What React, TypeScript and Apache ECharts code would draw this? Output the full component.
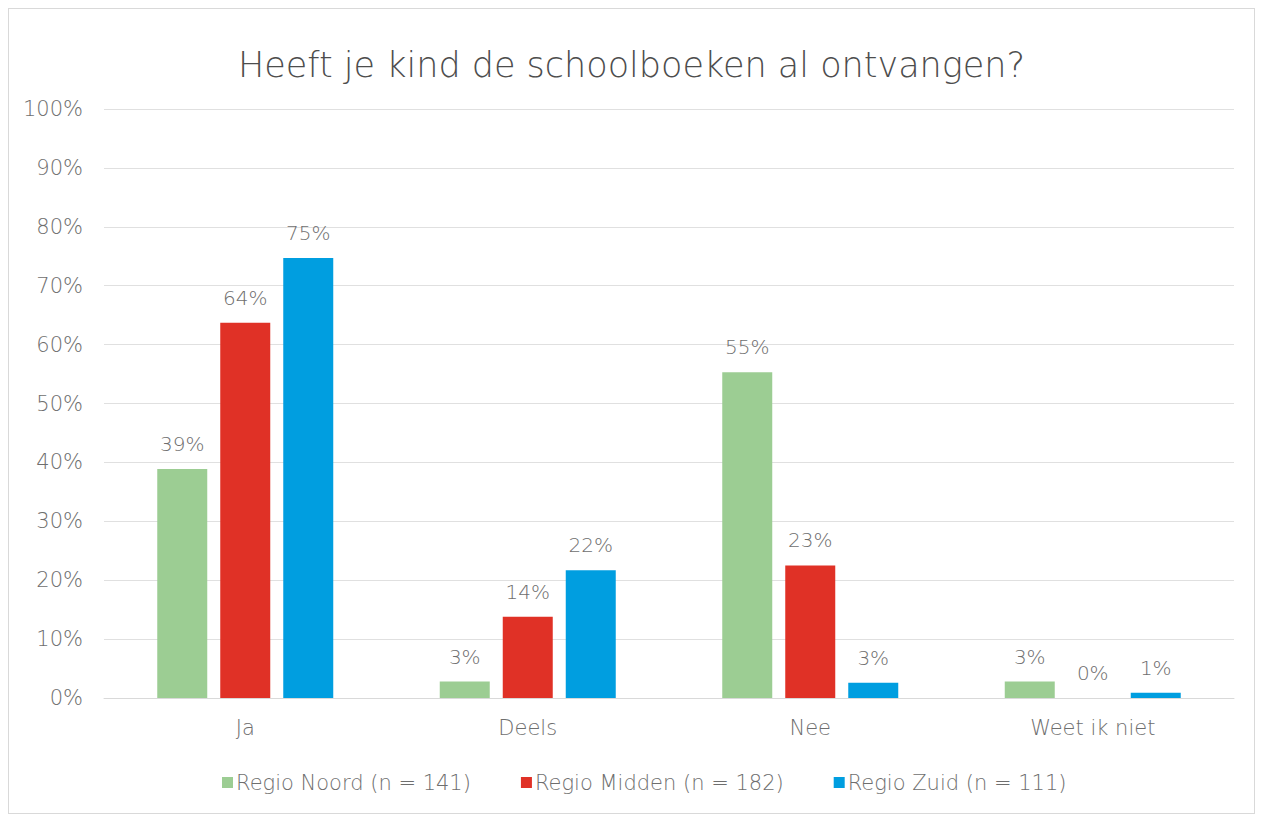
import React, { useEffect, useRef } from "react";
import * as echarts from "echarts";

const title = "Heeft je kind de schoolboeken al ontvangen?";
const categories = ["Ja", "Deels", "Nee", "Weet ik niet"];
const seriesNames = ["Regio Noord (n = 141)", "Regio Midden (n = 182)", "Regio Zuid (n = 111)"];
const noord = [38.9, 2.8, 55.3, 2.8];
const midden = [63.7, 13.8, 22.5, 0];
const zuid = [74.7, 21.7, 2.6, 0.9];
const colors = ["#9ccd93", "#e03126", "#009ee0"];

const FONT = "'DejaVu Sans', sans-serif";
const TEXT = "#6e6e6e";

export default function App() {
  const ref = useRef<HTMLDivElement>(null);
  useEffect(() => {
    if (!ref.current) return;
    const chart = echarts.init(ref.current, null, { renderer: "svg" });
    const values = [noord, midden, zuid];
    chart.setOption({
      animation: false,
      backgroundColor: "#ffffff",
      title: {
        text: title,
        left: "center",
        top: 33,
        textStyle: { fontFamily: FONT, fontWeight: 200, fontSize: 35, color: "#4d4d4d" },
      },
      legend: {
        bottom: 15,
        left: 208,
        itemWidth: 11,
        itemHeight: 11,
        itemGap: 50,
        icon: "rect",
        textStyle: { fontFamily: FONT, fontWeight: 200, fontSize: 21, color: TEXT, padding: [0, 0, 0, -2] },
        data: seriesNames,
      },
      grid: { left: 95, right: 20, top: 100, bottom: 115, containLabel: false },
      xAxis: {
        type: "category",
        data: categories,
        axisLine: { lineStyle: { color: "#d9d9d9", width: 1 } },
        axisTick: { show: false },
        axisLabel: { fontFamily: FONT, fontWeight: 200, fontSize: 21, color: TEXT, margin: 19 },
      },
      yAxis: {
        type: "value",
        min: 0,
        max: 100,
        interval: 10,
        axisLine: { show: false },
        axisTick: { show: false },
        splitLine: { lineStyle: { color: "#e0e0e0", width: 1 } },
        axisLabel: { fontFamily: FONT, fontWeight: 200, fontSize: 21, color: TEXT, margin: 21, formatter: "{value}%" },
      },
      series: seriesNames.map((name, i) => ({
        name,
        type: "bar",
        data: values[i],
        barWidth: 50,
        barGap: "26%",
        itemStyle: { color: colors[i] },
        label: {
          show: true,
          position: "top",
          distance: 15,
          fontFamily: FONT,
          fontWeight: 200,
          fontSize: 20,
          color: TEXT,
          formatter: (p: any) => Math.round(p.value) + "%",
        },
      })),
    });
    return () => chart.dispose();
  }, []);
  return (
    <div style={{ border: "1px solid #d9d9d9", width: 1245, height: 804 }}>
      <div ref={ref} style={{ width: 1245, height: 804 }} />
    </div>
  );
}
